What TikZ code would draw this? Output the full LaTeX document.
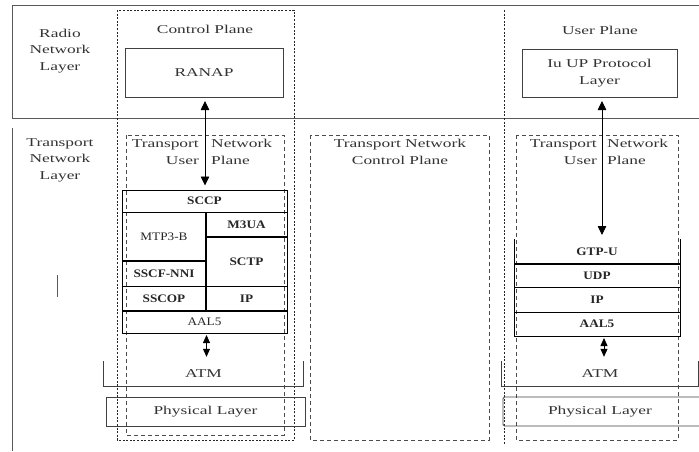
\documentclass[tikz,border=0pt]{standalone}
\usepackage{fontspec}
\setmainfont{Liberation Serif}[FakeStretch=1.45]
% the protocol stack labels are set a little less wide
\newfontfamily\stackfont{Liberation Serif}[FakeStretch=1.15]
\usetikzlibrary{arrows.meta}

\tikzset{
  frame/.style={draw=black!65, line width=0.7pt},
  plane/.style={draw=black!85, line width=0.9pt, dash pattern=on 2pt off 1.6pt},
  tnbox/.style={draw=black!70, line width=0.8pt, dash pattern=on 4pt off 3pt},
  lbl/.style={font=\fontsize{12}{16.5}\selectfont, text=black!80, align=center, inner sep=0pt},
  proto/.style={draw=black!75, line width=0.8pt, inner sep=0pt, outer sep=0pt},
  cell/.style={draw=black, line width=0.6pt, inner sep=0pt, outer sep=0pt,
               font=\stackfont\fontsize{11.5}{13}\selectfont\bfseries, text=black!85},
  plaincell/.style={cell, font=\stackfont\fontsize{11.5}{13}\selectfont},
  cellline/.style={draw=black, line width=0.6pt},
  sepline/.style={draw=black, line width=1.8pt},
  bracket/.style={draw=black!75, line width=0.9pt},
  link/.style={draw=black, line width=0.8pt,
               {Triangle[width=8.5pt,length=9pt]}-{Triangle[width=8.5pt,length=9pt]}},
  shortlink/.style={draw=black, line width=0.8pt,
               {Triangle[width=7pt,length=8pt]}-{Triangle[width=7pt,length=8pt]}}
}

\begin{document}
\begin{tikzpicture}[x=1pt,y=-1pt]
\useasboundingbox (0,0) rectangle (699,451);
\clip (0,0) rectangle (699,451);

% layer frame
\draw[frame] (699,5) -- (12,5) -- (12,118) -- (699,118);
\draw[frame] (12,128) -- (12,451);
\draw[frame] (57,275) -- (57,297);

% planes
\draw[plane] (117,10) rectangle (294,440);
\draw[plane] (504,10) -- (504,445);
\draw[tnbox] (126,135) rectangle (284,435);
\draw[tnbox] (310,135) rectangle (489,440);
\draw[tnbox] (516,135) rectangle (678,440);

% layer names
\node[lbl] (rnl) at (60,51) {Radio\\Network\\Layer};
\node[lbl] (tnl) at (60,160) {Transport\\Network\\Layer};
\node[lbl] (cp) at (205,29) {Control Plane};
\node[lbl] (up) at (600,30) {User Plane};

% radio network layer protocols
\node[proto, lbl, minimum width=158pt, minimum height=49pt] (ranap) at (204,72.5) {RANAP};
\node[proto, lbl, minimum width=155pt, minimum height=48pt] (iuup) at (599.5,73) {Iu UP Protocol\\Layer};

% transport plane titles
\node[lbl, align=right, anchor=east] (tnupLa) at (199,152) {Transport\\User};
\node[lbl, align=left, anchor=west] (tnupLb) at (211,152) {Network\\Plane};
\node[lbl] (tncp) at (400,152) {Transport Network\\Control Plane};
\node[lbl, align=right, anchor=east] (tnupRa) at (597,152) {Transport\\User};
\node[lbl, align=left, anchor=west] (tnupRb) at (607,152) {Network\\Plane};

% control plane stack
\node[cell, minimum width=165pt, minimum height=22pt] (sccp) at (204.5,201) {SCCP};
\node[plaincell, minimum width=84pt, minimum height=49pt] (mtp) at (164,236.5) {MTP3-B};
\node[cell, minimum width=84pt, minimum height=25pt] (sscf) at (164,273.5) {SSCF-NNI};
\node[cell, minimum width=84pt, minimum height=25pt] (sscop) at (164,298.5) {SSCOP};
\node[cell, minimum width=81pt, minimum height=25pt] (m3ua) at (246.5,224.5) {M3UA};
\node[cell, minimum width=81pt, minimum height=49pt] (sctp) at (246.5,261.5) {SCTP};
\node[cell, minimum width=81pt, minimum height=25pt] (ipL) at (246.5,298.5) {IP};
\node[plaincell, minimum width=165pt, minimum height=22pt] (aal5L) at (204.5,322) {AAL5};
\draw[sepline] (mtp.north east) -- (ipL.south west);
\draw[sepline] (m3ua.south west) -- (m3ua.south east);
\draw[sepline] (mtp.south west) -- (mtp.south east);
\draw[sepline] (aal5L.north west) -- (aal5L.north east);

% user plane stack
\node[cell, draw=none, minimum width=166pt, minimum height=25pt] (gtpu) at (597,251.5) {GTP-U};
\draw[cellline] (gtpu.north west) -- (gtpu.south west) (gtpu.north east) -- (gtpu.south east);
\node[cell, minimum width=166pt, minimum height=23pt] (udp) at (597,275.5) {UDP};
\node[cell, minimum width=166pt, minimum height=25pt] (ipR) at (597,299.5) {IP};
\node[cell, minimum width=166pt, minimum height=24pt] (aal5R) at (597,324) {AAL5};
\draw[sepline] (gtpu.south west) -- (gtpu.south east);

% ATM and physical layers
\node[lbl, minimum width=199pt, minimum height=25pt] (atmL) at (203.5,373.5) {ATM};
\draw[bracket] (atmL.north west) |- (atmL.south east) -- (atmL.north east);
\node[lbl, minimum width=196pt, minimum height=25pt] (atmR) at (600,373.5) {ATM};
\draw[bracket] (atmR.north west) |- (atmR.south east) -- (atmR.north east);
\node[proto, lbl, minimum width=199pt, minimum height=29pt] (phyL) at (205.5,411.5) {Physical Layer};
\node[lbl] (phyRt) at (600,411.5) {Physical Layer};
\draw[bracket, rounded corners=1.5pt] (720,397) -- (503,397) -- (503,426) -- (720,426);

% connectors
\draw[link, shorten <=4pt, shorten >=4.5pt] ([xshift=1pt]ranap.south) -- ([xshift=1pt]ranap.south |- sccp.north);
\draw[link, shorten <=4pt, shorten >=4pt] ([xshift=2.5pt]iuup.south) -- ([xshift=2.5pt]iuup.south |- gtpu.north);
\draw[shortlink, shorten <=2pt, shorten >=4pt] ([xshift=2pt]aal5L.south) -- ([xshift=2pt]aal5L.south |- atmL.north);
\draw[shortlink, shorten <=2pt, shorten >=4pt] ([xshift=7pt]aal5R.south) -- ([xshift=7pt]aal5R.south |- atmR.north);
\end{tikzpicture}
\end{document}
